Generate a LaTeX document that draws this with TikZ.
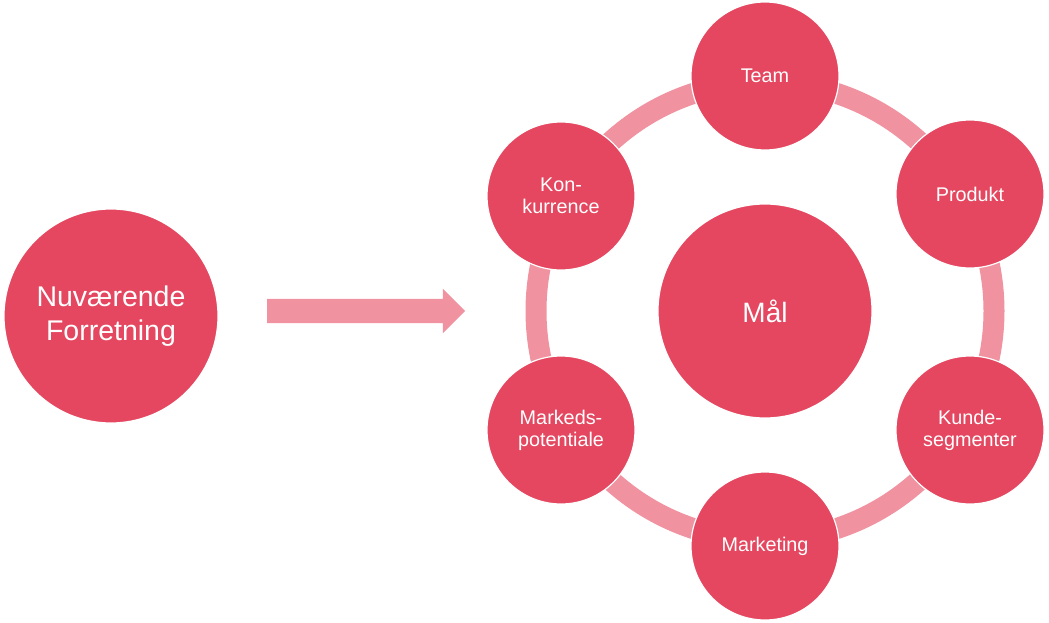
\documentclass[tikz,border=0pt]{standalone}
\usepackage{fontspec}
\setmainfont{Liberation Sans}
\usetikzlibrary{shapes.arrows}
\definecolor{dot}{HTML}{E4475F}
\definecolor{ringc}{HTML}{F0929F}
\tikzset{
  bigdot/.style={circle, fill=dot, draw=white, line width=1.2pt, minimum size=214pt, inner sep=0pt, text=white, align=center, font=\fontsize{28.5}{34}\selectfont},
  smalldot/.style={circle, fill=dot, draw=white, line width=1.2pt, minimum size=148pt, inner sep=0pt, text=white, align=center, font=\fontsize{19.8}{22}\selectfont},
  ringline/.style={draw=ringc, line width=21pt},
  blockarrow/.style={single arrow, fill=ringc, draw=none, inner sep=12pt, minimum height=198pt, minimum width=44pt, single arrow head extend=10pt, single arrow tip angle=90}
}
\begin{document}
\begin{tikzpicture}[x=1pt,y=-1pt]
\useasboundingbox (0,0) rectangle (1049,623);
\coordinate (c) at (765,311);
\draw[ringline] (c) circle (229);
\node[bigdot] (nuv) at (111,316) {Nuværende\\Forretning};
\node[blockarrow] (arr) at (360,311) {};
\node[bigdot, font=\fontsize{28}{32}\selectfont] (mal) at (c) {Mål};
\node[smalldot] (team) at (765,76) {Team};
\node[smalldot] (prod) at (970,194) {Produkt};
\node[smalldot] (kunde) at (970,430) {Kunde-\\segmenter};
\node[smalldot] (mark) at (765,546) {Marketing};
\node[smalldot] (markeds) at (561,430) {Markeds-\\potentiale};
\node[smalldot] (konk) at (561,196) {Kon-\\kurrence};
\end{tikzpicture}
\end{document}
